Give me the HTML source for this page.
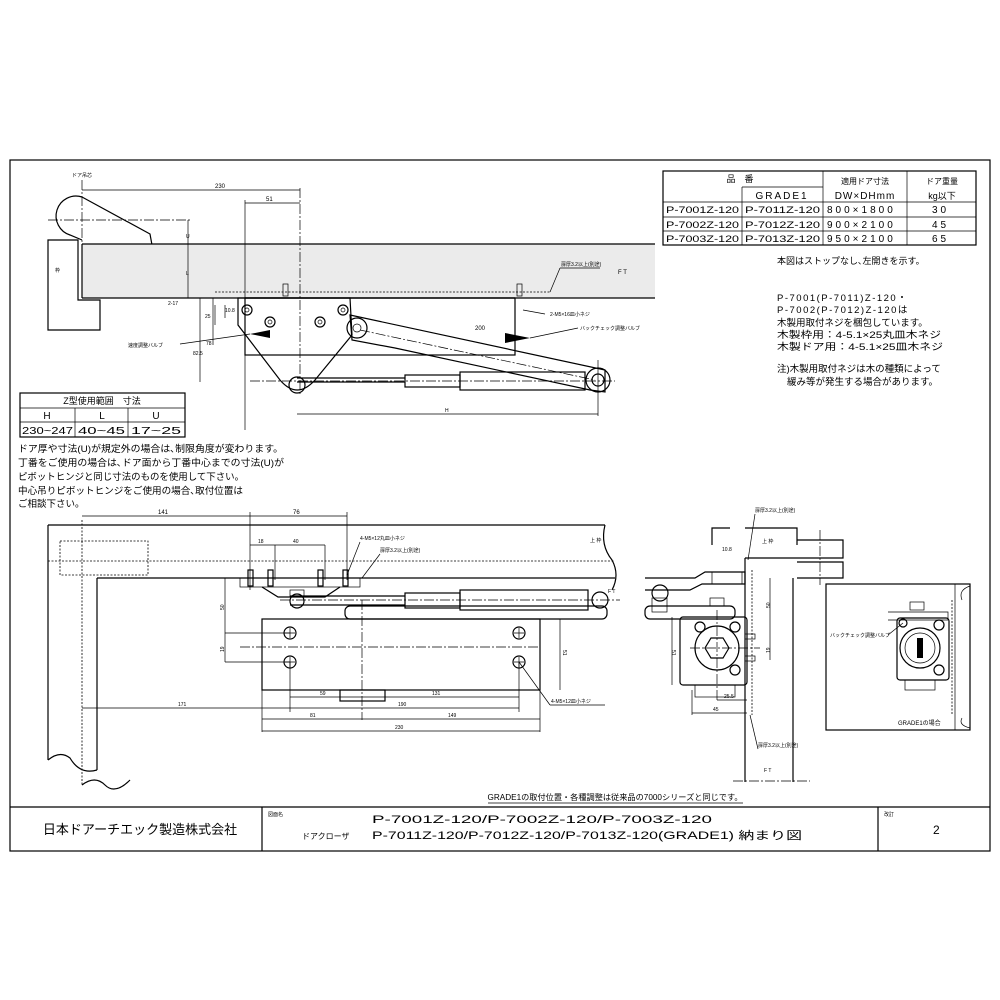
<!DOCTYPE html>
<html><head><meta charset="utf-8"><style>
body{margin:0;background:#fff}
svg{display:block}
text{font-family:"Liberation Sans","Noto Sans CJK JP",sans-serif;fill:#000}
.s{stroke:#000;fill:none;stroke-width:1.2}
.t{stroke:#000;fill:none;stroke-width:0.7}
.dd{stroke:#000;fill:none;stroke-width:0.7;stroke-dasharray:10 2 2 2}
.dt{stroke:#000;fill:none;stroke-width:0.8;stroke-dasharray:2 1.5}
</style></head><body>
<svg width="1000" height="1000" viewBox="0 0 1000 1000">
<rect x="0" y="0" width="1000" height="1000" fill="#fff"/>
<!-- frame -->
<rect x="10" y="160" width="980" height="691" class="s" stroke-width="1.4"/>
<line x1="10" y1="807" x2="990" y2="807" class="s"/>
<line x1="262" y1="807" x2="262" y2="851" class="s"/>
<line x1="878" y1="807" x2="878" y2="851" class="s"/>
<text x="140" y="834" font-size="13" text-anchor="middle">日本ドアーチエック製造株式会社</text>
<text x="268" y="816" font-size="5">図面名</text>
<text x="372" y="823" font-size="11" textLength="340" lengthAdjust="spacingAndGlyphs">P-7001Z-120/P-7002Z-120/P-7003Z-120</text>
<text x="302" y="839" font-size="8">ドアクローザ</text>
<text x="372" y="839" font-size="11" textLength="430" lengthAdjust="spacingAndGlyphs">P-7011Z-120/P-7012Z-120/P-7013Z-120(GRADE1) 納まり図</text>
<text x="884" y="816" font-size="5">改訂</text>
<text x="933" y="834" font-size="12">2</text>
<text x="615" y="800" font-size="8" text-anchor="middle" textLength="255" lengthAdjust="spacingAndGlyphs">GRADE1の取付位置・各種調整は従来品の7000シリーズと同じです。</text>
<line x1="488" y1="803" x2="743" y2="803" class="t"/>

<!-- top right table -->
<g>
<rect x="663" y="171" width="313" height="74" class="s"/>
<line x1="742" y1="187" x2="823" y2="187" class="t"/>
<line x1="663" y1="202" x2="976" y2="202" class="t"/>
<line x1="663" y1="217" x2="976" y2="217" class="t"/>
<line x1="663" y1="231" x2="976" y2="231" class="t"/>
<line x1="742" y1="187" x2="742" y2="245" class="t"/>
<line x1="823" y1="171" x2="823" y2="245" class="t"/>
<line x1="907" y1="171" x2="907" y2="245" class="t"/>
<text x="740" y="182" font-size="9" text-anchor="middle">品　番</text>
<text x="782" y="199" font-size="10" text-anchor="middle" letter-spacing="2">GRADE1</text>
<text x="865" y="184" font-size="8" text-anchor="middle">適用ドア寸法</text>
<text x="865" y="199" font-size="10" text-anchor="middle" letter-spacing="1">DW×DHmm</text>
<text x="942" y="184" font-size="8" text-anchor="middle">ドア重量</text>
<text x="942" y="199" font-size="9" text-anchor="middle">kg以下</text>
<g font-size="9">
<text x="666" y="213" textLength="73" lengthAdjust="spacingAndGlyphs">P-7001Z-120</text>
<text x="745" y="213" textLength="75" lengthAdjust="spacingAndGlyphs">P-7011Z-120</text>
<text x="666" y="228" textLength="73" lengthAdjust="spacingAndGlyphs">P-7002Z-120</text>
<text x="745" y="228" textLength="75" lengthAdjust="spacingAndGlyphs">P-7012Z-120</text>
<text x="666" y="242" textLength="73" lengthAdjust="spacingAndGlyphs">P-7003Z-120</text>
<text x="745" y="242" textLength="75" lengthAdjust="spacingAndGlyphs">P-7013Z-120</text>
</g>
<g font-size="10" letter-spacing="3">
<text x="827" y="213">800×1800</text><text x="827" y="228">900×2100</text><text x="827" y="242">950×2100</text>
<text x="932" y="213">30</text><text x="932" y="228">45</text><text x="932" y="242">65</text>
</g>
<text x="777" y="264" font-size="9">本図はストップなし､左開きを示す。</text>
<g font-size="9.5">
<text x="777" y="301" letter-spacing="1.5">P-7001(P-7011)Z-120・</text>
<text x="777" y="313" letter-spacing="1.5">P-7002(P-7012)Z-120は</text>
<text x="777" y="326">木製用取付ネジを梱包しています。</text>
<text x="777" y="338" textLength="164" lengthAdjust="spacingAndGlyphs">木製枠用：4-5.1×25丸皿木ネジ</text>
<text x="777" y="350" textLength="166" lengthAdjust="spacingAndGlyphs">木製ドア用：4-5.1×25皿木ネジ</text>
<text x="777" y="372">注)木製用取付ネジは木の種類によって</text>
<text x="787" y="385">緩み等が発生する場合があります。</text>
</g>
</g>

<!-- Z table & notes -->
<rect x="20" y="393" width="165" height="44" class="s"/>
<line x1="20" y1="408" x2="185" y2="408" class="t"/>
<line x1="20" y1="422" x2="185" y2="422" class="t"/>
<line x1="75" y1="408" x2="75" y2="437" class="t"/>
<line x1="128" y1="408" x2="128" y2="437" class="t"/>
<text x="102" y="404" font-size="9" text-anchor="middle">Z型使用範囲　寸法</text>
<text x="47" y="419" font-size="10" text-anchor="middle">H</text>
<text x="102" y="419" font-size="10" text-anchor="middle">L</text>
<text x="156" y="419" font-size="10" text-anchor="middle">U</text>
<text x="22" y="434" font-size="10" textLength="51" lengthAdjust="spacingAndGlyphs">230~247</text>
<text x="78" y="434" font-size="10" textLength="47" lengthAdjust="spacingAndGlyphs">40~45</text>
<text x="131" y="434" font-size="10" textLength="50" lengthAdjust="spacingAndGlyphs">17~25</text>
<g font-size="9.5">
<text x="18" y="452" textLength="265" lengthAdjust="spacingAndGlyphs">ドア厚や寸法(U)が規定外の場合は､制限角度が変わります。</text>
<text x="18" y="466" textLength="266" lengthAdjust="spacingAndGlyphs">丁番をご使用の場合は､ドア面から丁番中心までの寸法(U)が</text>
<text x="18" y="480" textLength="226" lengthAdjust="spacingAndGlyphs">ピボットヒンジと同じ寸法のものを使用して下さい。</text>
<text x="18" y="494" textLength="225" lengthAdjust="spacingAndGlyphs">中心吊りピボットヒンジをご使用の場合､取付位置は</text>
<text x="18" y="507">ご相談下さい。</text>
</g>

<!-- TOP DRAWING -->
<g>
<text x="72" y="177" font-size="5">ドア吊芯</text>
<line x1="82" y1="180" x2="82" y2="245" class="dd"/>
<line x1="48" y1="220" x2="190" y2="220" class="dd"/>
<path d="M82 197 A18 18 0 0 0 70 235 L82 240" class="s"/>
<path d="M82 197 L150 234 L152 245" class="s"/>
<path d="M48 240 L78 240 L78 300 L100 300 L100 330 L48 330 Z" fill="#e6e6e6" class="s"/>
<text x="55" y="272" font-size="5">枠</text>
<rect x="82" y="244" width="573" height="54" fill="#ebebeb" stroke="none"/>
<line x1="82" y1="244" x2="655" y2="244" class="s"/>
<line x1="82" y1="298" x2="655" y2="298" class="s"/>
<line x1="82" y1="244" x2="82" y2="298" class="s"/>
<line x1="215" y1="292" x2="550" y2="292" class="dt"/>
<line x1="550" y1="292" x2="560" y2="268" class="t"/><line x1="560" y1="268" x2="600" y2="268" class="t"/>
<text x="561" y="266" font-size="5">扉厚3.2以上(別途)</text>
<text x="618" y="274" font-size="6">F T</text>
<line x1="82" y1="190" x2="300" y2="190" class="t"/><text x="215" y="188" font-size="6">230</text>
<line x1="245" y1="203" x2="300" y2="203" class="t"/><text x="266" y="201" font-size="6">51</text>
<line x1="300" y1="188" x2="300" y2="395" class="dd"/>
<line x1="245" y1="200" x2="245" y2="430" class="t"/>
<line x1="188" y1="220" x2="188" y2="298" class="t"/><text x="186" y="238" font-size="5">U</text><text x="186" y="275" font-size="5">L</text>
<text x="168" y="305" font-size="5">2-17</text>
<line x1="200" y1="298" x2="200" y2="382" class="t"/><text x="193" y="355" font-size="5">82.5</text>
<line x1="213" y1="298" x2="213" y2="345" class="t"/><text x="206" y="345" font-size="5">78</text>
<line x1="215" y1="305" x2="215" y2="325" class="t"/><text x="205" y="318" font-size="5">25</text>
<line x1="225" y1="305" x2="225" y2="318" class="t"/><text x="225" y="312" font-size="5">10.8</text>
<line x1="297" y1="414" x2="598" y2="414" class="t"/><text x="445" y="412" font-size="5">H</text>
<line x1="598" y1="360" x2="598" y2="416" class="t"/>
<rect x="245" y="298" width="270" height="57" class="s"/>
<line x1="245" y1="298" x2="515" y2="298" class="s" stroke-width="1.6"/>
<path d="M238 298 L350 298 L352 335 L315 380 Q297 400 280 380 L238 325 Z" fill="#fff" class="s"/>
<circle cx="297" cy="385" r="8" class="s"/>
<circle cx="247" cy="310" r="5" class="s"/><circle cx="270" cy="322" r="5" class="s"/>
<circle cx="320" cy="322" r="5" class="s"/><circle cx="343" cy="310" r="5" class="s"/>
<circle cx="247" cy="310" r="2" class="t"/><circle cx="270" cy="322" r="2" class="t"/><circle cx="320" cy="322" r="2" class="t"/><circle cx="343" cy="310" r="2" class="t"/>
<path d="M350 315 L605 370 L605 392 L590 390 L395 348 L352 340 Z" fill="#fff" class="s"/>
<circle cx="357" cy="328" r="10" fill="#fff" class="s"/><circle cx="357" cy="328" r="4" class="t"/>
<line x1="360" y1="330" x2="595" y2="380" class="dd"/>
<text x="475" y="330" font-size="6">200</text>
<line x1="297" y1="382" x2="405" y2="382" class="s"/>
<line x1="297" y1="378" x2="405" y2="378" class="s"/>
<rect x="405" y="375" width="55" height="12" fill="#fff" class="s"/>
<rect x="460" y="372" width="125" height="18" fill="#fff" class="s"/>
<line x1="250" y1="381" x2="615" y2="381" class="dd"/>
<circle cx="598" cy="380" r="12" fill="#fff" class="s"/><circle cx="598" cy="380" r="6" class="s"/>
<path d="M505 333 L530 338 L505 343 Z" fill="#000"/>
<path d="M270 330 L250 334 L270 338 Z" fill="#000"/>
<line x1="250" y1="334" x2="180" y2="344" class="t"/><text x="128" y="347" font-size="5">速度調整バルブ</text>
<line x1="530" y1="338" x2="578" y2="328" class="t"/><text x="580" y="330" font-size="5">バックチェック調整バルブ</text>
<line x1="523" y1="310" x2="545" y2="314" class="t"/><text x="550" y="316" font-size="5">2-M5×16皿小ネジ</text>
<rect x="283" y="284" width="5" height="12" class="t"/>
<rect x="517" y="284" width="5" height="12" class="t"/>
</g>

<!-- BOTTOM LEFT DRAWING -->
<g>
<line x1="48" y1="525" x2="605" y2="525" class="s"/>
<path d="M605 525 Q600 545 612 560 Q620 575 612 590" class="s"/>
<line x1="48" y1="561" x2="615" y2="561" class="dt"/>
<line x1="97" y1="578" x2="615" y2="578" class="s"/>
<rect x="60" y="541" width="88" height="34" class="dt"/>
<line x1="48" y1="525" x2="48" y2="760" class="s"/>
<line x1="97" y1="578" x2="97" y2="770" class="s"/>
<line x1="82" y1="520" x2="82" y2="785" class="dt"/>
<path d="M48 760 Q60 750 70 758 Q80 775 97 770" class="s"/>
<path d="M82 785 Q95 775 105 785 Q115 795 130 780" class="s"/>
<line x1="82" y1="516" x2="347" y2="516" class="t"/><text x="158" y="514" font-size="6">141</text><text x="293" y="514" font-size="6">76</text>
<line x1="250" y1="512" x2="250" y2="590" class="t"/><line x1="347" y1="512" x2="347" y2="580" class="t"/>
<line x1="250" y1="545" x2="325" y2="545" class="t"/><text x="258" y="543" font-size="5">18</text><text x="293" y="543" font-size="5">40</text>
<line x1="275" y1="545" x2="275" y2="580" class="t"/><line x1="325" y1="545" x2="325" y2="580" class="t"/>
<text x="360" y="540" font-size="5">4-M5×12丸皿小ネジ</text><line x1="347" y1="575" x2="360" y2="542" class="t"/>
<text x="380" y="552" font-size="5">扉厚3.2以上(別途)</text><line x1="362" y1="578" x2="380" y2="554" class="t"/>
<text x="590" y="542" font-size="5">上 枠</text>
<rect x="240" y="578" width="120" height="9" class="t"/>
<g class="s"><rect x="248" y="570" width="5" height="16"/><rect x="268" y="570" width="5" height="16"/><rect x="318" y="570" width="5" height="16"/><rect x="343" y="570" width="5" height="16"/></g>
<path d="M262 587 L278 597 L325 597 L340 587" class="s"/>
<circle cx="297" cy="601" r="7" class="s"/><rect x="290" y="590" width="14" height="7" class="t"/>
<line x1="290" y1="596" x2="405" y2="596" class="s"/><line x1="290" y1="605" x2="405" y2="605" class="s"/>
<rect x="405" y="593" width="55" height="15" fill="#fff" class="s"/>
<rect x="460" y="590" width="128" height="20" fill="#fff" class="s"/>
<line x1="280" y1="600" x2="620" y2="600" class="dd"/>
<circle cx="600" cy="600" r="8" fill="#fff" class="s"/>
<text x="608" y="593" font-size="5">F T</text>
<rect x="345" y="606" width="262" height="13" rx="5" fill="#fff" class="s"/>
<rect x="262" y="619" width="278" height="71" class="s"/>
<line x1="262" y1="690" x2="262" y2="732" class="t"/><line x1="540" y1="690" x2="540" y2="732" class="t"/>
<rect x="340" y="690" width="45" height="11" class="s"/>
<line x1="240" y1="647" x2="540" y2="647" class="dd"/>
<line x1="362" y1="600" x2="362" y2="720" class="dd"/>
<g class="s"><circle cx="290" cy="633" r="6"/><circle cx="290" cy="662" r="6"/><circle cx="519" cy="633" r="6"/><circle cx="519" cy="662" r="6"/></g>
<g class="t"><path d="M285 633h10M290 628v10M285 662h10M290 657v10M514 633h10M519 628v10M514 662h10M519 657v10"/></g>
<line x1="290" y1="662" x2="290" y2="712" class="t"/><line x1="519" y1="662" x2="519" y2="712" class="t"/>
<line x1="225" y1="578" x2="225" y2="662" class="t"/><text x="220" y="610" font-size="5" transform="rotate(-90 222 608)">50</text><text x="220" y="652" font-size="5" transform="rotate(-90 222 650)">19</text>
<line x1="225" y1="633" x2="290" y2="633" class="t"/><line x1="225" y1="662" x2="290" y2="662" class="t"/>
<line x1="560" y1="619" x2="560" y2="690" class="t"/><text x="565" y="652" font-size="5" transform="rotate(90 565 650)">51</text>
<line x1="290" y1="697" x2="519" y2="697" class="t"/><text x="320" y="695" font-size="5">59</text><text x="432" y="695" font-size="5">131</text>
<line x1="82" y1="708" x2="519" y2="708" class="t"/><text x="178" y="706" font-size="5">171</text><text x="398" y="706" font-size="5">190</text>
<line x1="262" y1="719" x2="540" y2="719" class="t"/><text x="310" y="717" font-size="5">81</text><text x="448" y="717" font-size="5">149</text>
<line x1="262" y1="731" x2="540" y2="731" class="t"/><text x="395" y="729" font-size="5">230</text>
<line x1="519" y1="662" x2="550" y2="705" class="t"/><line x1="550" y1="705" x2="605" y2="705" class="t"/>
<text x="551" y="703" font-size="5">4-M5×12皿小ネジ</text>
</g>

<!-- BOTTOM RIGHT -->
<g>
<path d="M712 545 L712 528 L730 528 M745 528 L797 528 L797 545" class="s"/>
<path d="M745 558 L843 558 L843 540 L797 540 M797 562 L843 562 L843 578 L797 578" class="s"/>
<line x1="820" y1="530" x2="820" y2="585" class="dd"/>
<line x1="745" y1="558" x2="745" y2="782" class="s"/><line x1="793" y1="578" x2="793" y2="782" class="s"/>
<line x1="752" y1="570" x2="752" y2="715" class="dt"/>
<line x1="733" y1="781" x2="810" y2="781" class="dd"/>
<text x="762" y="543" font-size="5">上 枠</text>
<text x="764" y="772" font-size="5">F T</text>
<text x="755" y="512" font-size="5">扉厚3.2以上(別途)</text><line x1="755" y1="514" x2="748" y2="560" class="t"/>
<text x="758" y="747" font-size="5">扉厚3.2以上(別途)</text><line x1="758" y1="749" x2="750" y2="715" class="t"/>
<text x="722" y="551" font-size="5">10.8</text>
<path d="M645 578 L695 578 L705 572 L745 572 L745 584 L702 584 L690 590 L645 590" class="s"/>
<rect x="712" y="572" width="30" height="12" class="t"/>
<circle cx="660" cy="593" r="8" class="s"/><rect x="652" y="598" width="15" height="14" class="t"/>
<rect x="645" y="606" width="90" height="13" rx="5" fill="#fff" class="s"/>
<rect x="710" y="598" width="14" height="8" class="t"/>
<rect x="680" y="617" width="67" height="68" rx="3" class="s"/>
<circle cx="717" cy="648" r="22" class="s"/>
<polygon points="729,648 723,658 711,658 705,648 711,638 723,638" class="s"/>
<circle cx="700" cy="627" r="5" class="s"/><circle cx="735" cy="627" r="5" class="s"/><circle cx="735" cy="670" r="5" class="s"/>
<line x1="690" y1="648" x2="760" y2="648" class="dd"/><line x1="717" y1="610" x2="717" y2="700" class="dd"/>
<rect x="695" y="685" width="40" height="12" class="t"/>
<rect x="745" y="634" width="10" height="5" class="t"/><rect x="745" y="656" width="10" height="5" class="t"/>
<line x1="770" y1="578" x2="770" y2="660" class="t"/><text x="768" y="610" font-size="5" transform="rotate(-90 768 608)">50</text><text x="768" y="655" font-size="5" transform="rotate(-90 768 653)">19</text>
<line x1="672" y1="617" x2="672" y2="685" class="t"/><text x="674" y="652" font-size="5" transform="rotate(90 674 650)">51</text>
<line x1="717" y1="700" x2="747" y2="700" class="t"/><text x="724" y="698" font-size="5">25.5</text>
<line x1="692" y1="713" x2="747" y2="713" class="t"/><text x="713" y="711" font-size="5">45</text>
<line x1="692" y1="690" x2="692" y2="715" class="t"/>
<rect x="826" y="584" width="144" height="146" class="s"/>
<path d="M955 584 L955 730 M970 586 Q958 590 962 600 M962 718 Q958 725 970 728" class="t"/>
<line x1="952" y1="600" x2="952" y2="715" class="dt"/>
<path d="M888 612 L948 612 L948 620 L888 620" class="t"/>
<rect x="910" y="602" width="14" height="8" class="t"/>
<rect x="897" y="618" width="52" height="62" rx="3" class="s"/>
<circle cx="920" cy="648" r="20" class="s"/><circle cx="920" cy="648" r="15" class="t"/>
<rect x="917" y="638" width="6" height="20" fill="#000"/>
<circle cx="903" cy="623" r="4" class="s"/><circle cx="939" cy="625" r="5" class="s"/><circle cx="939" cy="670" r="5" class="s"/>
<rect x="905" y="680" width="30" height="10" class="t"/>
<text x="830" y="637" font-size="5">バックチェック調整バルブ</text><line x1="888" y1="635" x2="903" y2="623" class="t"/>
<text x="898" y="725" font-size="6">GRADE1の場合</text>
</g>
</svg>
</body></html>
